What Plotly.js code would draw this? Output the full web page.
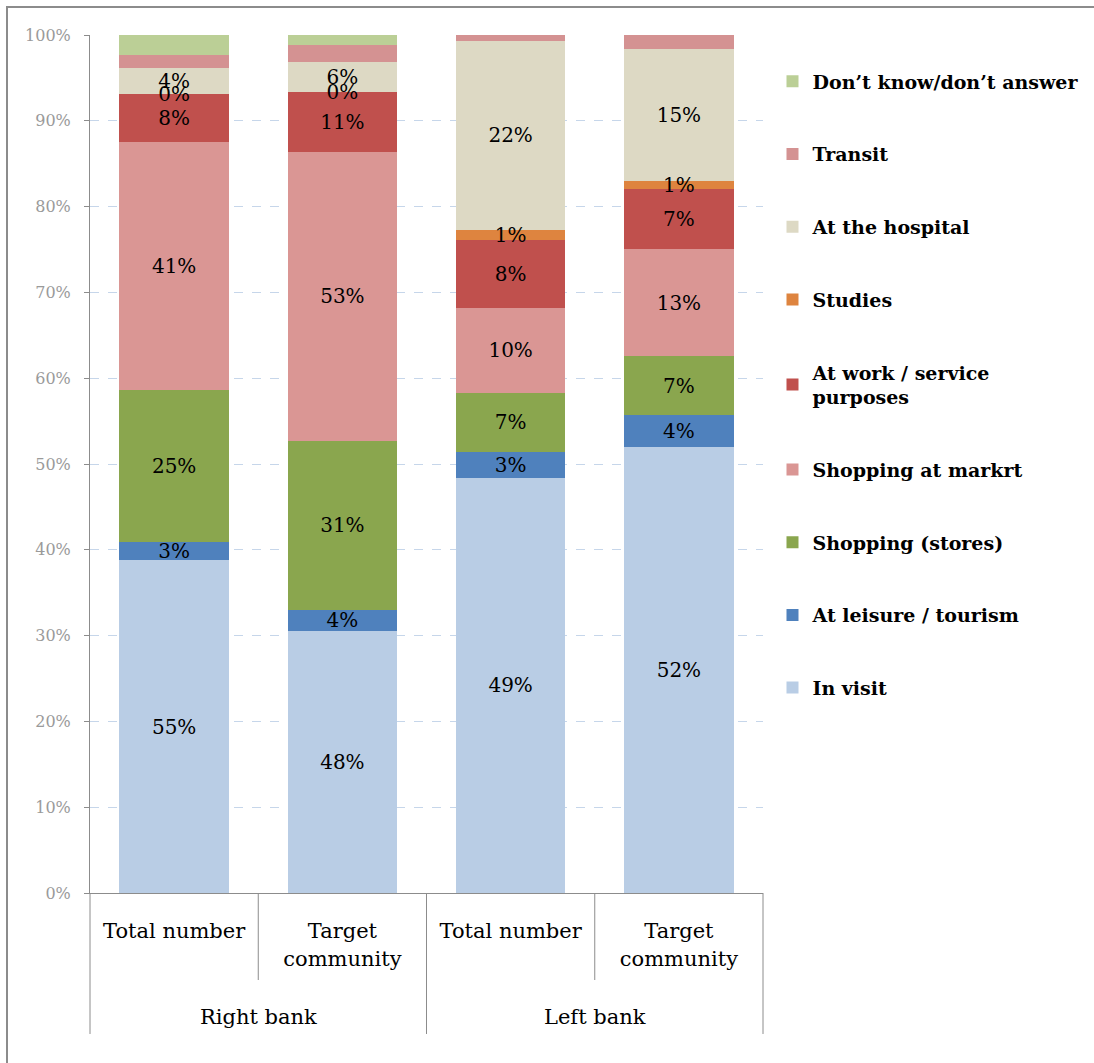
<!DOCTYPE html>
<html>
<head>
<meta charset="utf-8">
<script src="https://cdn.plot.ly/plotly-3.0.1.min.js"></script>
<style>
  html, body { margin: 0; padding: 0; background: #fff; }
  #frame { position: absolute; left: 6px; top: 6px; width: 1100px; height: 1100px;
           border-left: 2px solid #8c8c8c; border-top: 2px solid #8c8c8c; pointer-events: none; z-index: 5; }
  #chart { position: absolute; left: 0; top: 0; width: 1094px; height: 1063px; }
</style>
</head>
<body>
<div id="chart"></div>
<div id="frame"></div>
<script>
// Categories: bars (inner labels) and their groups
// (a zero-width space keeps the repeated inner labels distinct categories)
const categories = ["Total number", "Target<br>community", "Total number\u200b", "Target<br>community\u200b"];
const groupLabels = ["Right bank", "Left bank"];

// Series (bottom to top)
const seriesNames = [
  "In visit",
  "At leisure / tourism",
  "Shopping (stores)",
  "Shopping at markrt",
  "At work / service<br>purposes",
  "Studies",
  "At the hospital",
  "Transit",
  "Don\u2019t know/don\u2019t answer"
];
const inVisit   = [55, 48, 49, 52];
const leisure   = [3, 4, 3, 3.8];
const stores    = [25, 31, 7, 6.8];
const market    = [41, 53, 10, 12.5];
const work      = [8, 11, 8, 7];
const studies   = [0.01, 0.01, 1.2, 1];
const hospital  = [4.3, 5.5, 22.3, 15.4];
const transit   = [2.1, 3, 0.7, 1.6];
const dontKnow  = [3.3, 1.9, 0, 0];

const seriesValues = [inVisit, leisure, stores, market, work, studies, hospital, transit, dontKnow];
const seriesColors = ["#B9CDE5", "#4F81BD", "#8AA64E", "#DA9694", "#C0504D", "#DE843F", "#DDD9C4", "#D49292", "#BBCF96"];
const showLabels   = [true, true, true, true, true, true, true, false, false];

const yTickVals = [0, 10, 20, 30, 40, 50, 60, 70, 80, 90, 100];

const serif = "DejaVu Serif";
const labelFont = { family: serif, size: 20, color: "#000" };
const axisGrey = "#8c8c8c";

// Coloured bars (no text)
const barTraces = seriesNames.map((name, i) => ({
  type: "bar",
  name: name,
  x: categories,
  y: seriesValues[i],
  marker: { color: seriesColors[i], line: { width: 0 } },
  textposition: "none",
  legendgroup: "g" + i,
  legendrank: 1000 - i,
  hoverinfo: "skip"
}));

// Same stacks on an overlaid axis pair, transparent, carrying the value labels above all bars
const labelTraces = seriesNames.map((name, i) => ({
  type: "bar",
  name: name,
  x: categories,
  y: seriesValues[i],
  xaxis: "x2",
  yaxis: "y2",
  marker: { color: "rgba(0,0,0,0)", line: { width: 0 } },
  text: showLabels[i] ? seriesValues[i].map(v => Math.round(v) + "%") : undefined,
  textposition: showLabels[i] ? "inside" : "none",
  insidetextanchor: "middle",
  textangle: 0,
  constraintext: "none",
  textfont: labelFont,
  insidetextfont: labelFont,
  cliponaxis: false,
  showlegend: false,
  hoverinfo: "skip"
}));

// Group separators and group labels below the category labels
const vline = (x, y1) => ({ type: "line", xref: "paper", yref: "paper", x0: x, x1: x, y0: 0, y1: y1,
                            line: { color: axisGrey, width: 1 } });
const shapes = [
  vline(0, -0.1643), vline(0.5, -0.1643), vline(1, -0.1643),
  vline(0.25, -0.1014), vline(0.75, -0.1014)
];
const annotations = groupLabels.map((g, k) => ({
  text: g, xref: "paper", yref: "paper", x: 0.25 + 0.5 * k, y: -0.1445,
  xanchor: "center", yanchor: "middle", showarrow: false,
  font: { family: serif, size: 21, color: "#000" }
}));

const layout = {
  width: 1094,
  height: 1063,
  margin: { l: 90, r: 330, t: 35, b: 170 },
  paper_bgcolor: "#ffffff",
  plot_bgcolor: "#ffffff",
  barmode: "stack",
  barnorm: "percent",
  bargap: 0.35,
  showlegend: true,
  legend: {
    x: 1.0126, xanchor: "left",
    y: 0.968, yanchor: "top",
    traceorder: "grouped",
    tracegroupgap: 45,
    itemwidth: 30,
    font: { family: serif, size: 19, color: "#000", weight: "bold" },
    bgcolor: "rgba(0,0,0,0)"
  },
  xaxis: {
    type: "category",
    categoryorder: "array",
    categoryarray: categories,
    showline: true,
    linecolor: axisGrey,
    linewidth: 1,
    ticks: "",
    ticklabelstandoff: 19,
    showgrid: false,
    tickfont: { family: serif, size: 21, color: "#000" }
  },
  xaxis2: {
    type: "category",
    overlaying: "x",
    matches: "x",
    visible: false
  },
  yaxis: {
    range: [0, 100],
    tickvals: yTickVals,
    ticktext: yTickVals.map(v => v + "%"),
    showline: true,
    linecolor: axisGrey,
    linewidth: 1,
    ticks: "outside",
    ticklen: 5,
    tickcolor: axisGrey,
    ticklabelstandoff: 10,
    showgrid: true,
    gridcolor: "#C6D6EA",
    griddash: "dash",
    gridwidth: 1,
    zeroline: false,
    tickfont: { family: serif, size: 16, color: "#9a9a9a" }
  },
  yaxis2: {
    overlaying: "y",
    range: [0, 100],
    visible: false
  },
  shapes: shapes,
  annotations: annotations
};

Plotly.newPlot("chart", barTraces.concat(labelTraces), layout, { displayModeBar: false, staticPlot: true });
</script>
</body>
</html>
